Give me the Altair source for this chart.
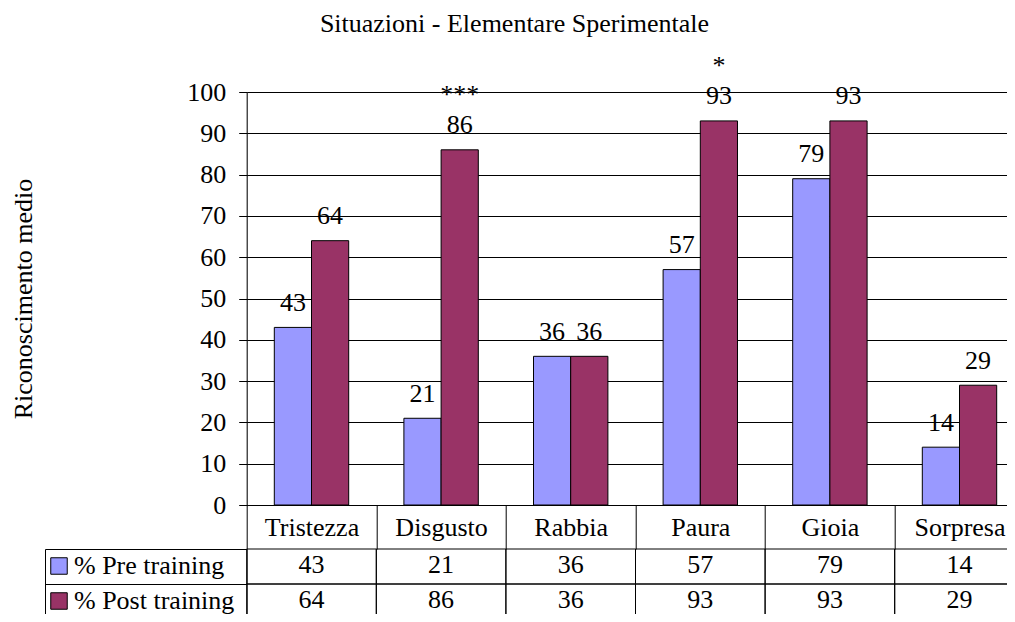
import altair as alt
import pandas as pd

# ---- data ----
categories = ["Tristezza", "Disgusto", "Rabbia", "Paura", "Gioia", "Sorpresa"]
pre_values = [43, 21, 36, 57, 79, 14]
post_values = [64, 86, 36, 93, 93, 29]
post_significance = ["", "***", "", "*", "", ""]
series_names = ["% Pre training", "% Post training"]
series_colors = ["#9999FF", "#993366"]
y_ticks = [0, 10, 20, 30, 40, 50, 60, 70, 80, 90, 100]
chart_title = "Situazioni - Elementare Sperimentale"
y_title = "Riconoscimento medio"

rows = []
for i, c in enumerate(categories):
    rows.append({"cat": c, "series": series_names[0], "value": pre_values[i], "sig": ""})
    rows.append({"cat": c, "series": series_names[1], "value": post_values[i], "sig": post_significance[i]})
df = pd.DataFrame(rows)

FONT = "Liberation Serif"
FS = 26
STEP_TOTAL = 777.6      # six category columns of the plot / data table
W = 760.3               # visible plot width (the last column runs off the page)
H = 413
LEG_W = 201.7           # width of the legend column of the data table
CAT_ROW = 44            # height of the category row of the table
ROW = 35                # height of a value row of the table

x_band = alt.Scale(paddingInner=0, paddingOuter=0, range=[0, STEP_TOTAL])
x_axis = alt.Axis(title=None, orient="bottom", domain=True, domainColor="black",
                  ticks=True, tickBand="extent", tickSize=CAT_ROW, tickColor="black",
                  labelFont=FONT, labelFontSize=FS, labelColor="black", labelAngle=0,
                  labelPadding=-14, labelBaseline="alphabetic", grid=False)

x_top = alt.X("cat:N", sort=categories, scale=x_band, axis=x_axis)
x_off = alt.XOffset("series:N", sort=series_names,
                    scale=alt.Scale(paddingInner=0, paddingOuter=0.742))
y_top = alt.Y(
    "value:Q",
    scale=alt.Scale(domain=[0, 100], nice=False),
    axis=alt.Axis(values=y_ticks, title=y_title, orient="left", domain=True, domainColor="black",
                  ticks=True, tickSize=8, tickColor="black",
                  grid=True, gridColor="black", gridWidth=1,
                  labelFont=FONT, labelFontSize=FS, labelColor="black", labelPadding=13,
                  titleFont=FONT, titleFontSize=FS, titleFontWeight="normal", titleColor="black",
                  titleX=-215.7, titleY=H / 2, titleBaseline="alphabetic", titleAlign="center"),
)
color = alt.Color(
    "series:N", sort=series_names,
    scale=alt.Scale(domain=series_names, range=series_colors),
    legend=alt.Legend(title=None, orient="none", legendX=-200.7, legendY=461,
                      direction="vertical", symbolType="square", symbolSize=272,
                      symbolStrokeColor="black", symbolStrokeWidth=1, symbolOpacity=1,
                      labelFont=FONT, labelFontSize=FS, labelColor="black",
                      labelOffset=2, rowPadding=9, padding=0, labelLimit=400),
)

base = alt.Chart(df)
bars = base.mark_bar(stroke="black", strokeWidth=1).encode(
    x=x_top, xOffset=x_off, y=y_top, color=color
)
labels = base.mark_text(font=FONT, fontSize=FS, color="black", baseline="alphabetic", dy=-16.5).encode(
    x=x_top, xOffset=x_off, y=y_top, text="value:Q"
)
stars = base.transform_filter("datum.sig != ''").mark_text(
    font=FONT, fontSize=FS, color="black", baseline="alphabetic", dy=-47
).encode(x=x_top, xOffset=x_off, y=y_top, text="sig:N")
plot = alt.layer(bars, labels, stars)

# ---- data table rows under the category row ----
row_scale = alt.Scale(domain=series_names, paddingInner=0, paddingOuter=0,
                      range=[H + CAT_ROW, H + CAT_ROW + 2 * ROW])
y_rows_a = alt.Y(
    "series:N", sort=series_names, scale=row_scale,
    axis=alt.Axis(title=None, orient="left", labels=False, ticks=True, tickBand="extent",
                  tickSize=LEG_W, tickColor="black", domain=True, domainColor="black", grid=False),
)
y_rows_b = alt.Y(
    "series:N", sort=series_names, scale=row_scale,
    axis=alt.Axis(title=None, orient="left", offset=LEG_W, labels=False, ticks=False,
                  domain=True, domainColor="black", grid=False),
)
cell_text = base.mark_text(font=FONT, fontSize=FS, color="black", baseline="alphabetic", dy=6.5).encode(
    x=x_top, y=y_rows_a, text="value:Q"
)
cells = base.mark_rect(filled=False, stroke="black", strokeWidth=1).encode(
    x=x_top, y=y_rows_b
)

chart = alt.layer(plot, cell_text, cells).resolve_scale(y="independent").resolve_axis(
    y="independent"
).properties(
    width=W, height=H,
    autosize=alt.AutoSizeParams(type="none"),
    padding={"left": 238.7, "top": 84, "right": 0, "bottom": 109},
    title=alt.Title(chart_title, font=FONT, fontSize=26, fontWeight="normal", color="black",
                    anchor="middle", frame="group", dx=-112.4, offset=16),
).configure_view(strokeWidth=0).configure(font=FONT)

chart.save("out.html", embed_options={"renderer": "svg", "actions": False})
